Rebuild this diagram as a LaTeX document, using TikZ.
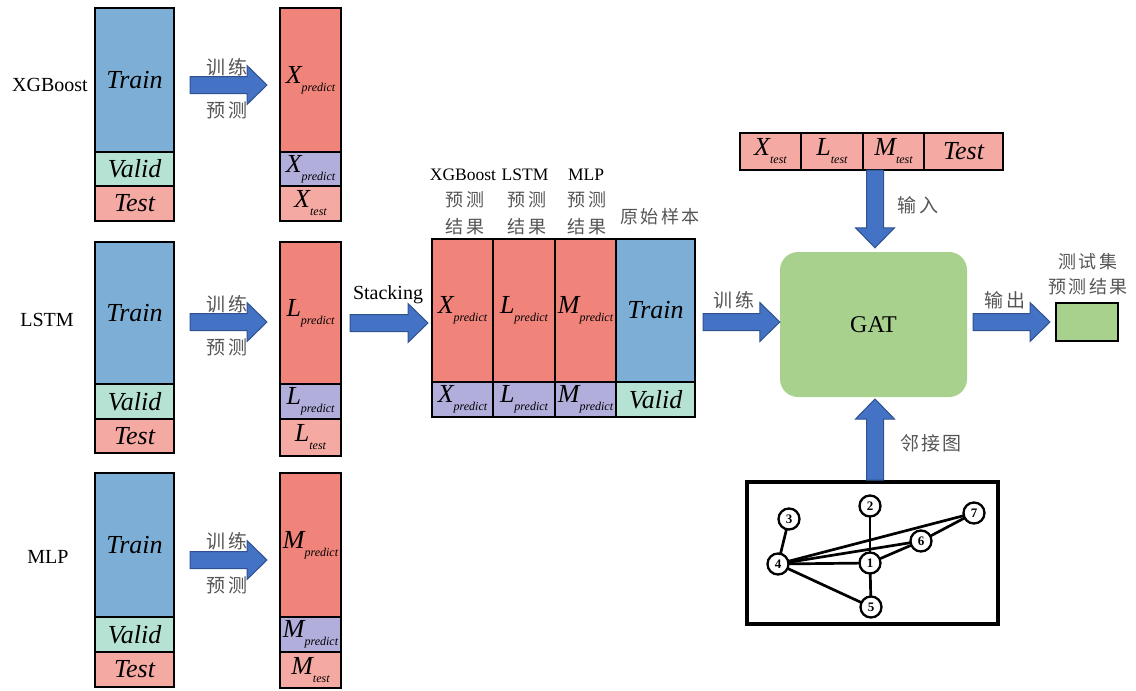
\documentclass[tikz,border=0pt]{standalone}
\usepackage{fontspec}
\setmainfont{Liberation Serif}
\newfontfamily\cjk[LetterSpace=12]{Noto Sans CJK SC}
\usetikzlibrary{calc}

\definecolor{trainblue}{HTML}{7DAFD6}
\definecolor{predred}{HTML}{F0837A}
\definecolor{validgreen}{HTML}{B6E2D3}
\definecolor{testpink}{HTML}{F4A9A3}
\definecolor{predpurple}{HTML}{B2AEDC}
\definecolor{arrowfill}{HTML}{4472C4}
\definecolor{arrowedge}{HTML}{2F528F}
\definecolor{gatgreen}{HTML}{A9D18E}
\definecolor{cjkgray}{HTML}{555555}

% italic symbol with a lowered small subscript
\newcommand\vsub[2]{#1\raisebox{-8pt}{\fontsize{12}{12}\selectfont #2}}

% one coloured cell of a data column: name, x1, y1, x2, y2, fill, text
\newcommand\cellbox[7]{%
  \node[cell, fill=#6, minimum width={(#4)-(#2)}, minimum height={(#5)-(#3)}]
    (#1) at ({((#2)+(#4))/2},{((#3)+(#5))/2}) {#7};}

\tikzset{
  cell/.style={draw=black, line width=2.4pt, inner sep=0pt, outer sep=0pt,
    font=\fontsize{26}{26}\selectfont\itshape},
  modellab/.style={font=\fontsize{20}{20}\selectfont, inner sep=0pt},
  hdrlab/.style={font=\fontsize{17.5}{17.5}\selectfont, inner sep=0pt},
  cjklab/.style={font=\fontsize{19}{19}\selectfont\cjk, text=cjkgray, inner sep=0pt},
  cjksmall/.style={font=\fontsize{18}{18}\selectfont\cjk, text=cjkgray, inner sep=0pt},
  gnode/.style={circle, draw=black, line width=2.3pt, fill=white, minimum size=21pt,
    inner sep=0pt, font=\fontsize{13}{13}\selectfont\bfseries},
  gedge/.style={line width=2.7pt},
  fatarrow/.style={draw=arrowedge, fill=arrowfill, line width=1pt, line join=miter,
    to path={let \p1=(\tikztostart), \p2=(\tikztotarget),
      \n1={atan2(\y2-\y1,\x2-\x1)}, \n2={veclen(\x2-\x1,\y2-\y1)} in
      [shift={(\p1)}, rotate=\n1]
      (0,8.5) -- ({\n2-20},8.5) -- ({\n2-20},19.5) -- ({\n2},0)
      -- ({\n2-20},-19.5) -- ({\n2-20},-8.5) -- (0,-8.5) -- cycle}}
}

\begin{document}
\begin{tikzpicture}[x=1pt,y=-1pt]
\useasboundingbox (0,0) rectangle (1136,691);

% ---------------- XGBoost ----------------
\node[modellab] (lxgb) at (50,85) {XGBoost};
\cellbox{xtrain}{95}{8}{174}{152}{trainblue}{Train}
\cellbox{xvalid}{95}{152}{174}{186}{validgreen}{Valid}
\cellbox{xtest}{95}{186}{174}{221}{testpink}{Test}
\cellbox{xp1}{280}{8}{341}{152}{predred}{\vsub{X}{predict}}
\cellbox{xp2}{280}{152}{341}{186}{predpurple}{\vsub{X}{predict}}
\cellbox{xp3}{280}{186}{341}{221}{testpink}{\vsub{X}{test}}
\coordinate (xa0) at (190,85);
\coordinate (xa1) at (267,85);
\draw[fatarrow] (xa0) to (xa1);
\node[cjklab] (xt1) at (227,67) {训练};
\node[cjklab] (xt2) at (227,110) {预测};

% ---------------- LSTM ----------------
\node[modellab] (llstm) at (47,320) {LSTM};
\cellbox{ltrain}{95}{242}{174}{384}{trainblue}{Train}
\cellbox{lvalid}{95}{384}{174}{419}{validgreen}{Valid}
\cellbox{ltest}{95}{419}{174}{453}{testpink}{Test}
\cellbox{lp1}{280}{242}{341}{384}{predred}{\vsub{L}{predict}}
\cellbox{lp2}{280}{384}{341}{419}{predpurple}{\vsub{L}{predict}}
\cellbox{lp3}{280}{419}{341}{456}{testpink}{\vsub{L}{test}}
\coordinate (la0) at (190,322);
\coordinate (la1) at (267,322);
\draw[fatarrow] (la0) to (la1);
\node[cjklab] (lt1) at (227,304) {训练};
\node[cjklab] (lt2) at (227,347) {预测};

% ---------------- MLP ----------------
\node[modellab] (lmlp) at (48,557) {MLP};
\cellbox{mtrain}{95}{473}{174}{617}{trainblue}{Train}
\cellbox{mvalid}{95}{617}{174}{652}{validgreen}{Valid}
\cellbox{mtest}{95}{652}{174}{687}{testpink}{Test}
\cellbox{mp1}{280}{473}{341}{617}{predred}{\vsub{M}{predict}}
\cellbox{mp2}{280}{617}{341}{652}{predpurple}{\vsub{M}{predict}}
\cellbox{mp3}{280}{652}{341}{688}{testpink}{\vsub{M}{test}}
\coordinate (ma0) at (190,560);
\coordinate (ma1) at (267,560);
\draw[fatarrow] (ma0) to (ma1);
\node[cjklab] (mt1) at (227,541) {训练};
\node[cjklab] (mt2) at (227,585) {预测};

% ---------------- stacked training set ----------------
\coordinate (sa0) at (350,323);
\coordinate (sa1) at (428,323);
\draw[fatarrow] (sa0) to (sa1);
\node[modellab] (stk) at (388,295) {Stacking};

\cellbox{s1}{432}{239}{493}{382}{predred}{\vsub{X}{predict}}
\cellbox{s2}{493}{239}{555}{382}{predred}{\vsub{L}{predict}}
\cellbox{s3}{555}{239}{616}{382}{predred}{\vsub{M}{predict}}
\cellbox{s4}{616}{239}{695}{382}{trainblue}{Train}
\cellbox{v1}{432}{382}{493}{417}{predpurple}{\vsub{X}{predict}}
\cellbox{v2}{493}{382}{555}{417}{predpurple}{\vsub{L}{predict}}
\cellbox{v3}{555}{382}{616}{417}{predpurple}{\vsub{M}{predict}}
\cellbox{v4}{616}{382}{695}{417}{validgreen}{Valid}

\node[hdrlab] (h1) at (463,175) {XGBoost};
\node[hdrlab] (h2) at (525,175) {LSTM};
\node[hdrlab] (h3) at (586,175) {MLP};
\node[cjksmall] (h1a) at (465,200) {预测};
\node[cjksmall] (h1b) at (465,227) {结果};
\node[cjksmall] (h2a) at (527,200) {预测};
\node[cjksmall] (h2b) at (527,227) {结果};
\node[cjksmall] (h3a) at (587,200) {预测};
\node[cjksmall] (h3b) at (587,227) {结果};
\node[cjksmall] (h4) at (660,217) {原始样本};

% ---------------- test strip ----------------
\cellbox{t1}{740}{133}{801}{170}{testpink}{\vsub{X}{test}}
\cellbox{t2}{801}{133}{863}{170}{testpink}{\vsub{L}{test}}
\cellbox{t3}{863}{133}{924}{170}{testpink}{\vsub{M}{test}}
\cellbox{t4}{924}{133}{1003}{170}{testpink}{Test}

% ---------------- GAT ----------------
\node[fill=gatgreen, rounded corners=18pt, minimum width=187pt, minimum height=145pt,
  inner sep=0pt, font=\fontsize{24}{24}\selectfont] (gat) at (873.5,324.5) {GAT};

\coordinate (ia0) at (875,170);
\draw[fatarrow] (ia0) to ([yshift=4pt]gat.north -| ia0);
\node[cjklab] (inlab) at (918,205) {输入};

\coordinate (ga0) at (703,322);
\draw[fatarrow] (ga0) to (gat.west |- ga0);
\node[cjklab] (trlab) at (734,300) {训练};

\node[draw=black, line width=2.4pt, fill=gatgreen, minimum width=62pt, minimum height=38pt,
  inner sep=0pt] (res) at (1087,322) {};
\coordinate (oa0) at (973,322);
\coordinate (oa1) at (1050,322);
\draw[fatarrow] (oa0) to (oa1);
\node[cjklab] (outlab) at (1005,300) {输出};
\node[cjksmall] (rl1) at (1088,262) {测试集};
\node[cjksmall] (rl2) at (1088,287) {预测结果};

% ---------------- adjacency graph ----------------
\node[draw=black, line width=3.2pt, minimum width=251pt, minimum height=142pt,
  inner sep=0pt] (adj) at (872.5,553) {};
\coordinate (ua0) at (875,480);
\draw[fatarrow] (ua0) to (875,399);
\node[cjklab] (adjlab) at (931,443) {邻接图};

% edges first, so the circles sit on top of them
\coordinate (c1) at (870,563);
\coordinate (c2) at (870,506);
\coordinate (c3) at (789,519);
\coordinate (c4) at (778,564);
\coordinate (c5) at (871,607);
\coordinate (c6) at (921,541);
\coordinate (c7) at (974,513);
\draw[gedge] (c3) -- (c4);
\draw[gedge] (c2) -- (c1);
\draw[gedge] (c1) -- (c5);
\draw[gedge] (c4) -- (c1);
\draw[gedge] (c4) -- (c5);
\draw[gedge] (c4) -- (c7);
\draw[gedge] (c4) -- (c6);
\draw[gedge] (c1) -- (c6);
\draw[gedge] (c6) -- (c7);
\node[gnode] (g1) at (c1) {1};
\node[gnode] (g2) at (c2) {2};
\node[gnode] (g3) at (c3) {3};
\node[gnode] (g4) at (c4) {4};
\node[gnode] (g5) at (c5) {5};
\node[gnode] (g6) at (c6) {6};
\node[gnode] (g7) at (c7) {7};
\end{tikzpicture}
\end{document}
